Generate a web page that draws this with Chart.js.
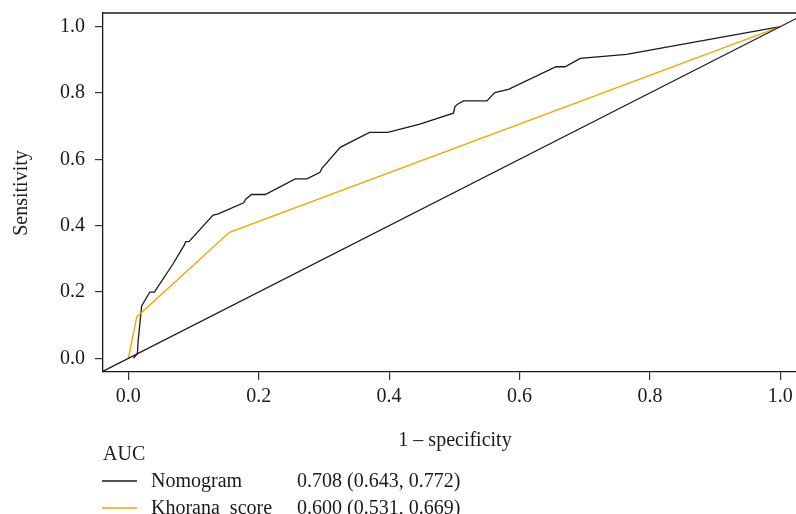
<!DOCTYPE html>
<html>
<head>
<meta charset="utf-8">
<script src="https://cdn.jsdelivr.net/npm/chart.js@4"></script>
<style>
  html, body { margin: 0; padding: 0; background: #fff; }
  #wrap { width: 796px; height: 514px; }
</style>
</head>
<body>
<div id="wrap"><canvas id="rocChart" width="796" height="514"></canvas></div>
<script>
// ROC curves
const nomogramX = [0.008, 0.014, 0.015, 0.0205, 0.033, 0.040, 0.069, 0.086, 0.088, 0.093, 0.130, 0.137, 0.177, 0.180, 0.189, 0.210, 0.256, 0.274, 0.294, 0.297, 0.325, 0.370, 0.398, 0.447, 0.4985, 0.501, 0.505, 0.514, 0.550, 0.562, 0.583, 0.656, 0.670, 0.693, 0.764, 1.0];
const nomogramY = [0.0, 0.015, 0.05, 0.158, 0.200, 0.200, 0.286, 0.342, 0.352, 0.352, 0.432, 0.435, 0.469, 0.480, 0.494, 0.494, 0.541, 0.541, 0.561, 0.573, 0.636, 0.681, 0.681, 0.706, 0.739, 0.759, 0.766, 0.776, 0.776, 0.801, 0.811, 0.879, 0.879, 0.904, 0.9165, 1.0];
const khoranaX = [0.0, 0.013, 0.155, 1.0];
const khoranaY = [0.0, 0.125, 0.380, 1.0];
const refX = [-0.1, 1.1];
const refY = [-0.1, 1.1];

const tickValues = [0, 0.2, 0.4, 0.6, 0.8, 1.0];
const legendNames = ['Nomogram', 'Khorana  score'];
const aucLabels = ['0.708 (0.643, 0.772)', '0.600 (0.531, 0.669)'];
const lineColors = ['#1a1a1a', '#f5a300'];

const FONT = "'Liberation Serif', 'DejaVu Serif', serif";
const FSIZE = 20;

function toPoints(xs, ys) {
  return xs.map((x, i) => ({ x: x, y: ys[i] }));
}

// top frame line, axis titles and the AUC legend underneath
const extras = {
  id: 'extras',
  afterDraw(chart) {
    const ctx = chart.ctx;
    const area = chart.chartArea;
    ctx.save();
    ctx.strokeStyle = '#1a1a1a';
    ctx.lineWidth = 1.3;
    ctx.beginPath();
    ctx.moveTo(area.left, area.top);
    ctx.lineTo(area.right, area.top);
    ctx.stroke();

    ctx.fillStyle = '#1a1a1a';
    ctx.font = FSIZE + 'px ' + FONT;
    ctx.textBaseline = 'alphabetic';
    ctx.textAlign = 'center';
    ctx.fillText('1 \u2013 specificity', 455, 446);

    ctx.save();
    ctx.translate(27, 193);
    ctx.rotate(-Math.PI / 2);
    ctx.fillText('Sensitivity', 0, 0);
    ctx.restore();

    ctx.textAlign = 'left';
    ctx.fillText('AUC', 103, 460);
    const rows = [481, 508];
    legendNames.forEach((name, i) => {
      const y = rows[i];
      ctx.strokeStyle = lineColors[i];
      ctx.lineWidth = 1.3;
      ctx.beginPath();
      ctx.moveTo(102, y);
      ctx.lineTo(137, y);
      ctx.stroke();
      ctx.fillText(name, 151, y + 6);
      ctx.fillText(aucLabels[i], 297, y + 6);
    });
    ctx.restore();
  }
};

const ctx = document.getElementById('rocChart').getContext('2d');
const rocChart = new Chart(ctx, {
  type: 'line',
  data: {
    datasets: [
      {
        label: 'Reference',
        data: toPoints(refX, refY),
        borderColor: '#1a1a1a',
        borderWidth: 1.3,
        pointRadius: 0,
        tension: 0
      },
      {
        label: legendNames[1],
        data: toPoints(khoranaX, khoranaY),
        borderColor: lineColors[1],
        borderWidth: 1.3,
        pointRadius: 0,
        tension: 0
      },
      {
        label: legendNames[0],
        data: toPoints(nomogramX, nomogramY),
        borderColor: lineColors[0],
        borderWidth: 1.3,
        pointRadius: 0,
        tension: 0
      }
    ]
  },
  options: {
    responsive: false,
    animation: false,
    devicePixelRatio: 1,
    layout: { padding: { top: 13, left: 0, right: 0, bottom: 0 } },
    plugins: {
      legend: { display: false },
      tooltip: { enabled: false }
    },
    scales: {
      x: {
        type: 'linear',
        min: -0.0388,
        max: 1.024,
        afterFit: (scale) => {
          scale.height = 142;
          scale.paddingLeft = 0;
          scale.paddingRight = 0;
        },
        afterBuildTicks: (scale) => { scale.ticks = tickValues.map(v => ({ value: v })); },
        ticks: {
          color: '#1a1a1a',
          font: { family: FONT, size: FSIZE },
          padding: 5,
          maxRotation: 0,
          callback: (v) => v.toFixed(1)
        },
        grid: { drawOnChartArea: false, drawTicks: true, tickLength: 8, color: '#333', lineWidth: 1.2 },
        border: { display: true, color: '#1a1a1a', width: 1.3 }
      },
      y: {
        type: 'linear',
        min: -0.041,
        max: 1.041,
        afterFit: (scale) => {
          scale.width = 103;
          scale.paddingTop = 0;
          scale.paddingBottom = 0;
        },
        afterBuildTicks: (scale) => { scale.ticks = tickValues.map(v => ({ value: v })); },
        ticks: {
          color: '#1a1a1a',
          font: { family: FONT, size: FSIZE },
          padding: 10,
          callback: (v) => v.toFixed(1)
        },
        grid: { drawOnChartArea: false, drawTicks: true, tickLength: 8, color: '#333', lineWidth: 1.2 },
        border: { display: true, color: '#1a1a1a', width: 1.3 }
      }
    }
  },
  plugins: [extras]
});
</script>
</body>
</html>
